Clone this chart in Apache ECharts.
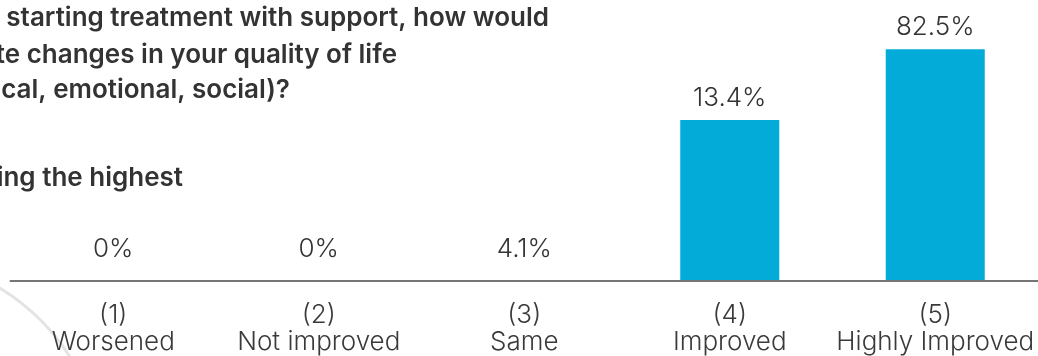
<!DOCTYPE html>
<html>
<head>
<meta charset="utf-8">
<script src="https://cdn.jsdelivr.net/npm/echarts@6/dist/echarts.min.js"></script>
<style>
html,body{margin:0;padding:0;background:#fff;}
#chart{width:1038px;height:356px;}
</style>
</head>
<body>
<div id="chart"></div>
<script>
// Categories (x-axis tick labels)
const categories = ['(1)\nWorsened', '(2)\nNot improved', '(3)\nSame', '(4)\nImproved', '(5)\nHighly Improved'];
// Percent labels printed above each bar
const percentLabels = ['0%', '0%', '4.1%', '13.4%', '82.5%'];
// Bar heights as drawn in the picture (0-100 axis scale)
const barHeights = [0, 0, 0, 57.3, 82.5];
// Question text lines (cropped at the left edge in the reference)
const titleLines = [
  'After starting treatment with support, how would',
  'you rate changes in your quality of life',
  '(physical, emotional, social)?',
  '5 being the highest'
];

const chart = echarts.init(document.getElementById('chart'), null, {renderer: 'canvas'});

const FONT = 'Inter, "Noto Sans", sans-serif';
const titleRight = [549, 397, 290, 183];
const titleMid = [18, 55, 90, 178];

const option = {
  animation: false,
  backgroundColor: '#ffffff',
  grid: {left: 10.5, right: -8.5, top: 0, bottom: 72.5, containLabel: false},
  xAxis: {
    type: 'category',
    data: categories,
    axisLine: {show: true, lineStyle: {color: '#767676', width: 2}},
    axisTick: {show: false},
    axisLabel: {
      interval: 0,
      hideOverlap: false,
      margin: 21,
      fontFamily: FONT,
      fontSize: 26,
      fontWeight: 300,
      lineHeight: 27,
      color: '#3a3a3a'
    },
    z: 3
  },
  yAxis: {
    type: 'value',
    min: 0,
    max: 100,
    show: false,
    splitLine: {show: false}
  },
  series: [{
    type: 'bar',
    barWidth: 99,
    itemStyle: {color: '#02ABD8'},
    data: barHeights.map(v => ({value: v, label: {distance: v === 0 ? 19 : 9}})),
    label: {
      show: true,
      position: 'top',
      fontFamily: FONT,
      fontSize: 26,
      fontWeight: 300,
      color: '#333333',
      formatter: p => percentLabels[p.dataIndex]
    },
    z: 2
  }],
  graphic: [
    {
      type: 'circle',
      shape: {cx: -110, cy: 470, r: 212.5},
      style: {fill: 'none', stroke: '#e4e4e4', lineWidth: 3},
      z: -10,
      silent: true
    }
  ].concat(titleLines.map((t, i) => ({
    type: 'text',
    x: titleRight[i],
    y: titleMid[i],
    style: {
      text: t,
      fontFamily: FONT,
      fontSize: 26,
      fontWeight: 600,
      fill: '#333333',
      align: 'right',
      verticalAlign: 'middle'
    },
    z: 5
  })))
};

chart.setOption(option);
</script>
</body>
</html>
